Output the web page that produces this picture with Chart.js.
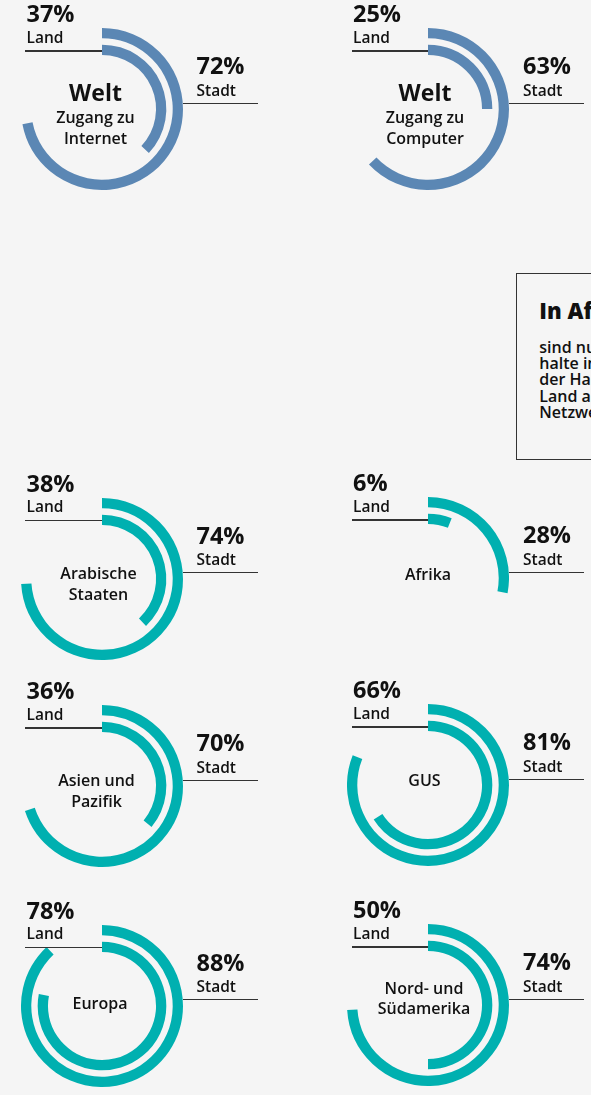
<!DOCTYPE html>
<html lang="de">
<head>
<meta charset="utf-8">
<title>Zugang zu Internet und Computer</title>
<script src="https://cdn.jsdelivr.net/npm/chart.js@4.4.1/dist/chart.umd.min.js"></script>
<style>
  html, body { margin: 0; padding: 0; }
  body { background: #f5f5f5; font-family: "Open Sans", "Noto Sans", sans-serif; color: #111; }
  #page { position: relative; width: 591px; height: 1095px; overflow: hidden; }
  .txt { position: absolute; white-space: nowrap; }
  .rule { position: absolute; height: 1.2px; background: #333; }
  .ring { position: absolute; width: 162px; height: 162px; }
  #note { position: absolute; left: 516px; top: 273px; width: 230px; height: 185px; border: 1px solid #333; }
</style>
</head>
<body>
<div id="page"></div>
<script>
// Data
const regions = ['Welt', 'Welt', 'Arabische Staaten', 'Afrika', 'Asien und Pazifik', 'GUS', 'Europa', 'Nord- und Südamerika'];
const stadtValues = [72, 63, 74, 28, 70, 81, 88, 74];
const landValues = [37, 25, 38, 6, 36, 66, 78, 50];
const centerTitles = ['Welt', 'Welt', '', '', '', '', '', ''];
const centerLines = [
    ['Zugang zu', 'Internet'],
    ['Zugang zu', 'Computer'],
    ['Arabische', 'Staaten'],
    ['Afrika'],
    ['Asien und', 'Pazifik'],
    ['GUS'],
    ['Europa'],
    ['Nord- und', 'Südamerika']
];
const landLabel = 'Land';
const stadtLabel = 'Stadt';
const noteTitle = 'In Afrika';
const noteLines = ['sind nur 6 % der Haus-', 'halte in ländlichen Gebieten', 'der Haushalte auf dem', 'Land an ein Internet-', 'Netzwerk angeschlossen.'];

// Layout (ring centers, center-text offsets)
const centers = [[101.5, 109], [428, 109], [101.5, 578.5], [428, 578], [101.5, 786], [428, 785], [101.5, 1005.5], [428, 1005]];
const textDx = [-6, -3, -3, 0, -5, -3.5, -1.5, -4];
const textBase = [[14.3, 35], [14.3, 35], [0.5, 22.2], [2.7], [0.7, 21.7], [1.7], [3.5], [-11, 9]];
const BLUE = '#5b87b4';
const TEAL = '#00b0b0';

const page = document.getElementById('page');

function addText(text, x, baseline, size, weight, align) {
    const d = document.createElement('div');
    d.className = 'txt';
    d.textContent = text;
    d.style.fontSize = size + 'px';
    d.style.lineHeight = size + 'px';
    d.style.fontWeight = weight;
    d.style.top = (baseline - 0.888 * size) + 'px';
    if (align === 'center') {
        d.style.left = (x - 150) + 'px';
        d.style.width = '300px';
        d.style.textAlign = 'center';
    } else {
        d.style.left = x + 'px';
    }
    page.appendChild(d);
    return d;
}

function addRule(x1, x2, y) {
    const r = document.createElement('div');
    r.className = 'rule';
    r.style.left = x1 + 'px';
    r.style.width = (x2 - x1) + 'px';
    r.style.top = (y - 0.6) + 'px';
    page.appendChild(r);
}

regions.forEach((name, i) => {
    const [cx, cy] = centers[i];
    const color = i < 2 ? BLUE : TEAL;

    const wrap = document.createElement('div');
    wrap.className = 'ring';
    wrap.style.left = (cx - 81) + 'px';
    wrap.style.top = (cy - 81) + 'px';
    const canvas = document.createElement('canvas');
    canvas.width = 162;
    canvas.height = 162;
    wrap.appendChild(canvas);
    page.appendChild(wrap);

    const arcStyle = { borderWidth: 0, hoverBorderWidth: 0, offset: 0, hoverOffset: 0 };
    new Chart(canvas.getContext('2d'), {
        type: 'doughnut',
        data: {
            labels: [name, ''],
            datasets: [
                { data: [stadtValues[i], 100 - stadtValues[i]], backgroundColor: [color, 'rgba(0,0,0,0)'], weight: 10.5, ...arcStyle },
                { data: [100], backgroundColor: ['rgba(0,0,0,0)'], weight: 6.5, ...arcStyle },
                { data: [landValues[i], 100 - landValues[i]], backgroundColor: [color, 'rgba(0,0,0,0)'], weight: 10.5, ...arcStyle }
            ]
        },
        options: {
            responsive: false,
            animation: false,
            events: [],
            cutout: '66.7%',
            spacing: 0,
            layout: { padding: 0 },
            plugins: { legend: { display: false }, tooltip: { enabled: false } }
        }
    });

    // Land (left) label
    addText(landValues[i] + '%', cx - 75, cy - 86, 23.5, 700);
    addText(landLabel, cx - 75, cy - 65.7, 15.5, 600);
    addRule(cx - 76.5, cx, cy - 58);

    // Stadt (right) label
    addText(stadtValues[i] + '%', cx + 95, cy - 34, 23.5, 700);
    addText(stadtLabel, cx + 95, cy - 12.3, 15.5, 600);
    addRule(cx + 81, cx + 156, cy - 5.7);

    // center text
    const tx = cx + textDx[i];
    if (centerTitles[i]) addText(centerTitles[i], tx, cy - 7.3, 23, 700, 'center');
    centerLines[i].forEach((line, k) => {
        addText(line, tx, cy + textBase[i][k], 16, 600, 'center');
    });
});

// note box
const note = document.createElement('div');
note.id = 'note';
page.appendChild(note);
addText(noteTitle, 539.3, 318.3, 22, 800);
noteLines.forEach((line, k) => addText(line, 539.3, 353 + k * 16.3, 16, 600));
</script>
</body>
</html>
